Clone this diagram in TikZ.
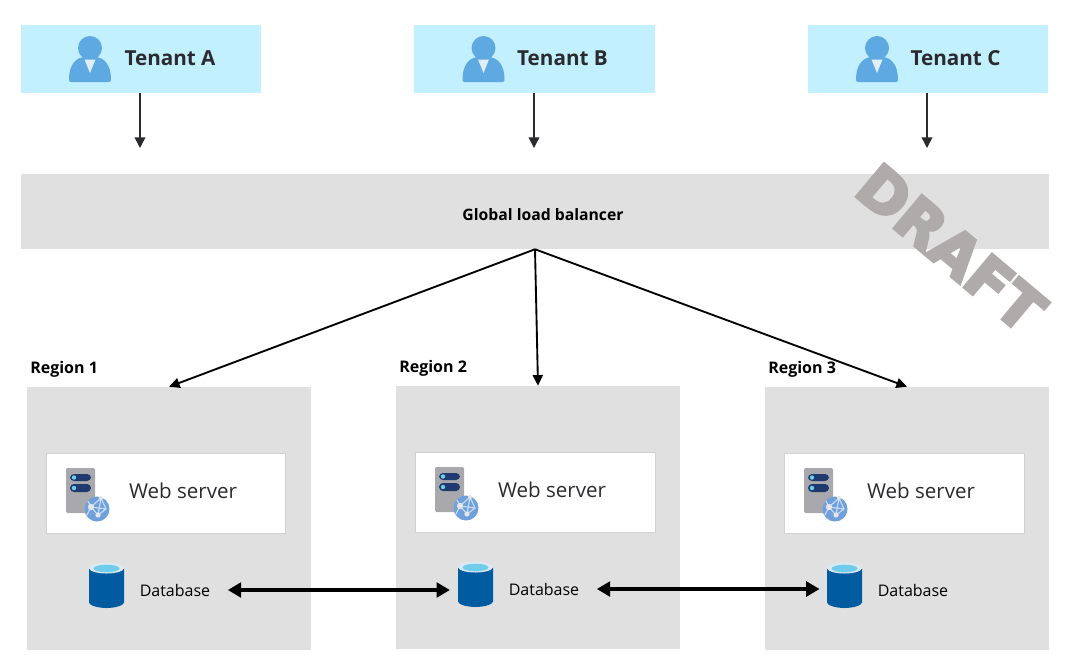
\documentclass[tikz,border=0pt]{standalone}
\usepackage{fontspec}
\setmainfont{Open Sans}
\newfontfamily\draftfont{DejaVu Sans}
\usetikzlibrary{arrows.meta}
\definecolor{tenantbg}{HTML}{C2F0FF}
\definecolor{panel}{HTML}{E0E0E0}
\definecolor{person}{HTML}{5EA9E2}
\definecolor{dbblue}{HTML}{005BA1}
\definecolor{dbcyan}{HTML}{6FCDEB}
\definecolor{dbrim}{HTML}{DCE9F1}
\definecolor{srvgrey}{HTML}{A9A9AD}
\definecolor{srvnavy}{HTML}{1F3A6E}
\definecolor{globe}{HTML}{6FA0DC}
\definecolor{draftcol}{HTML}{AFABAB}
\definecolor{ink}{HTML}{2B2B2E}
\tikzset{
  x=0.75pt,y=-0.75pt,
  tenantbox/.style={fill=tenantbg,minimum width=180.5pt,minimum height=51pt,inner sep=0pt,text=ink},
  regionbox/.style={fill=panel,minimum width=213pt,minimum height=197.25pt,inner sep=0pt},
  webbox/.style={fill=white,draw=black!18,line width=0.5pt,minimum width=179.5pt,minimum height=60pt,inner sep=0pt},
  tenantlabel/.style={font=\fontsize{15.5}{18}\selectfont\bfseries,text=ink,inner sep=0pt},
  weblabel/.style={font=\fontsize{15.4}{18}\selectfont,text=ink,inner sep=0pt},
  dblabel/.style={font=\fontsize{12}{14}\selectfont,inner sep=0pt,text=black},
  regionlabel/.style={font=\fontsize{12}{14}\selectfont\bfseries,inner sep=0pt,anchor=west},
  thinarrow/.style={draw=ink,line width=1.1pt,-{Triangle[length=8pt,width=8pt]}},
  lbarrow/.style={draw=black,line width=1.4pt,-{Triangle[length=8pt,width=7.5pt]}},
  dbarrow/.style={draw=black,line width=3pt,{Triangle[length=10pt,width=11pt]}-{Triangle[length=10pt,width=11pt]}},
  personicon/.pic={
    \fill[person] (-21,32) .. controls (-21,16) and (-14,10) .. (-6,9) -- (6,9) .. controls (14,10) and (21,16) .. (21,32)
      .. controls (21,33) and (20,34) .. (19,34) -- (-19,34) .. controls (-20,34) and (-21,33) .. (-21,32) -- cycle;
    \fill[person] (0,0) circle[radius=12];
    \fill[person!20!white] (-5.5,11.5) -- (5.5,11.5) -- (0,25) -- cycle;
  },
  servericon/.pic={
    \fill[srvgrey,rounded corners=1pt] (0,0) rectangle (29,45);
    \fill[srvnavy,rounded corners=3pt] (4,6) rectangle (25,13);
    \fill[srvnavy,rounded corners=3pt] (4,16) rectangle (25,24);
    \fill[dbcyan] (8,9.5) circle[radius=2.2];
    \fill[dbcyan] (8,20) circle[radius=2.2];
    \fill[globe] (31,41) circle[radius=12.5];
    \draw[white!60!globe,line width=0.9pt] (25,39) -- (35,30) (25,39) -- (32,47) -- (40,41) -- (35,30) (25,39) -- (40,41) (35,30) -- (32,47) (22,33) -- (25,39) -- (21,47);
    \fill[white!70!srvgrey] (25,39) circle[radius=3.2] (32,47) circle[radius=2.6] (35,30) circle[radius=2];
  },
  dbicon/.pic={
    \fill[dbblue] (-17.5,-17) -- (-17.5,17) .. controls (-17.5,20) and (-8,22.5) .. (0,22.5) .. controls (8,22.5) and (17.5,20) .. (17.5,17) -- (17.5,-17) -- cycle;
    \fill[dbrim] (0,-17.5) ellipse[x radius=17.5,y radius=5.5];
    \fill[dbcyan] (0,-17) ellipse[x radius=13,y radius=3.8];
  },
}
\begin{document}
\begin{tikzpicture}
\useasboundingbox (0,0) rectangle (1083,669);
\fill[white] (0,0) rectangle (1083,669);
% tenants
\node[tenantbox] (ta) at (141,59) {};
\node[tenantbox] (tb) at (534.5,59) {};
\node[tenantbox] (tc) at (928,59) {};
\pic at (90,48) {personicon};
\pic at (483.5,48) {personicon};
\pic at (877,48) {personicon};
\node[tenantlabel] (tal) at (170,58.5) {Tenant A};
\node[tenantlabel] (tbl) at (562.5,58.5) {Tenant B};
\node[tenantlabel] (tcl) at (955.5,58.5) {Tenant C};
\coordinate (tae) at (140,148);
\coordinate (tbe) at (534,148);
\coordinate (tce) at (927,148);
\draw[thinarrow] (tae |- ta.south) -- (tae);
\draw[thinarrow] (tbe |- tb.south) -- (tbe);
\draw[thinarrow] (tce |- tc.south) -- (tce);
% load balancer
\node[fill=panel,minimum width=771pt,minimum height=56.25pt,inner sep=0pt] (lb) at (535,211.5) {};
\node[font=\fontsize{11.8}{14}\selectfont\bfseries,inner sep=0pt] (lbl) at (543,214.5) {Global load balancer};
% regions
\node[regionbox] (r1) at (169,518.5) {};
\node[regionbox] (r2) at (538,517.5) {};
\node[regionbox] (r3) at (907,518.5) {};
\node[regionlabel] (r1l) at (30,369.5) {Region 1};
\node[regionlabel] (r2l) at (399,368.5) {Region 2};
\node[regionlabel] (r3l) at (768,369.5) {Region 3};
\draw[lbarrow] (lb.south) -- (r1.north);
\draw[lbarrow] (lb.south) -- (r2.north);
\draw[lbarrow] (lb.south) -- (r3.north);
% web servers
\node[webbox] (w1) at (165.7,493.8) {};
\node[webbox] (w2) at (535.2,492.8) {};
\node[webbox] (w3) at (904.2,493.8) {};
\pic at (66,468) {servericon};
\pic at (435,467) {servericon};
\pic at (804,468) {servericon};
\node[weblabel] (w1l) at (183,491) {Web server};
\node[weblabel] (w2l) at (552,490) {Web server};
\node[weblabel] (w3l) at (921,491) {Web server};
% databases
\node[minimum width=26pt,minimum height=34pt,inner sep=0pt] (d1) at (106.5,585.5) {};
\node[minimum width=26pt,minimum height=34pt,inner sep=0pt] (d2) at (475.5,584.5) {};
\node[minimum width=26pt,minimum height=34pt,inner sep=0pt] (d3) at (844.5,585.5) {};
\pic at (d1) {dbicon};
\pic at (d2) {dbicon};
\pic at (d3) {dbicon};
\node[dblabel] (d1l) at (175,590) {Database};
\node[dblabel] (d2l) at (544,589) {Database};
\node[dblabel] (d3l) at (913,590) {Database};
\draw[dbarrow,shorten <=13pt,shorten >=6pt] (d1l.east) -- (d2.west |- d1l.east);
\draw[dbarrow,shorten <=13pt,shorten >=5.5pt] (d2l.east) -- (d3.west |- d2l.east);
% watermark
\node[font=\draftfont\fontsize{44.5}{50}\selectfont\bfseries,text=draftcol,rotate=-40,inner sep=0pt] (dr) at (951,248) {\special{pdf:code 2 Tr 2.2 w}DRAFT\special{pdf:code 0 Tr 1 w}};
\end{tikzpicture}
\end{document}
